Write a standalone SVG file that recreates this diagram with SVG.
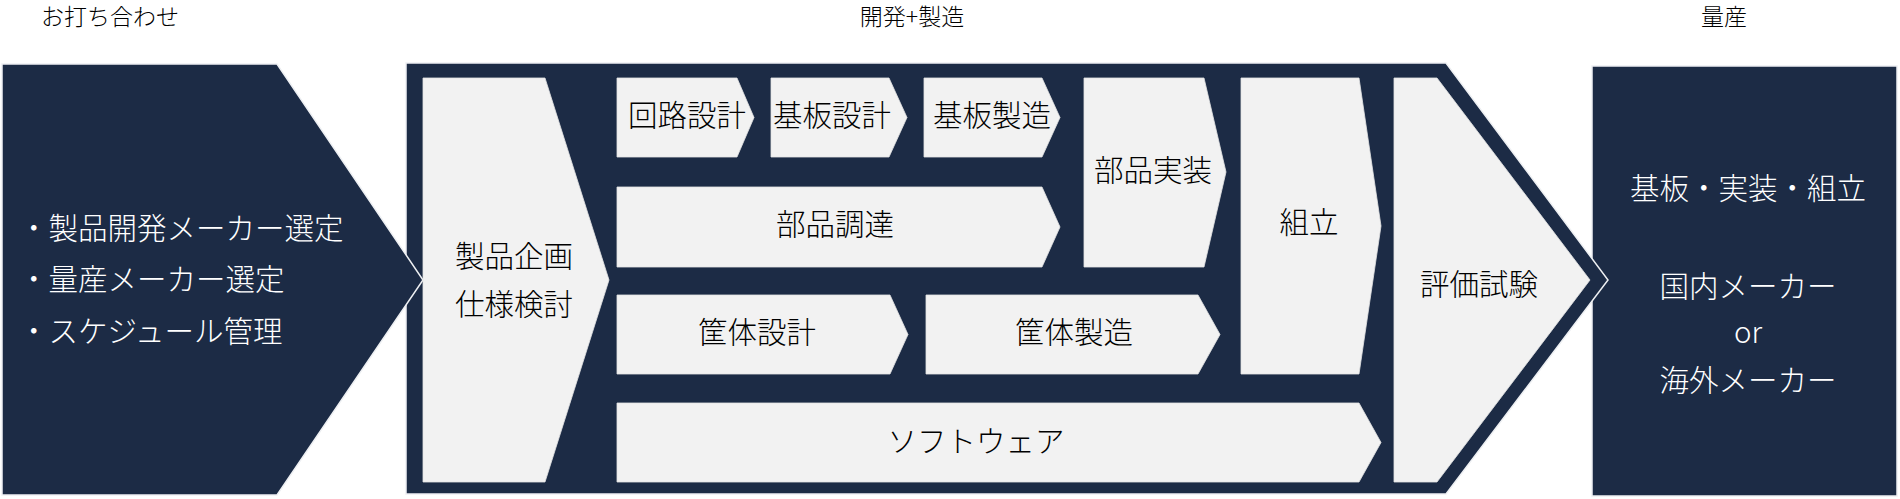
<svg xmlns="http://www.w3.org/2000/svg" width="1900" height="499" viewBox="0 0 1900 499">
<style>
  .dark { fill: #1c2b45; stroke: #eef0f3; stroke-width: 1.5; stroke-linejoin: miter; }
  .light { fill: #f2f2f2; stroke: #e4e4e4; stroke-width: 0.8; }
  text { font-family: "Noto Sans CJK JP", "Noto Sans", sans-serif; font-weight: 300; }
  .t { font-size: 29.5px; fill: #000000; text-anchor: middle; }
  .w { font-size: 29.5px; fill: #ffffff; text-anchor: middle; }
  .wl { font-size: 29.5px; fill: #ffffff; text-anchor: start; }
  .h { font-size: 23px; fill: #000000; text-anchor: middle; }
</style>
<rect x="0" y="0" width="1900" height="499" fill="#ffffff"/>

<g id="titles">
  <text class="h" x="110" y="25">お打ち合わせ</text>
  <text class="h" x="912" y="25">開発+製造</text>
  <text class="h" x="1724" y="25">量産</text>
</g>

<g id="mass-production">
  <rect class="dark" x="1592" y="66" width="305" height="430"/>
  <text class="w" x="1748" y="198.5">基板・実装・組立</text>
  <text class="w" x="1748" y="296.5">国内メーカー</text>
  <text class="w" x="1748" y="343">or</text>
  <text class="w" x="1748" y="390.5">海外メーカー</text>
</g>

<g id="dev-frame">
  <polygon class="dark" points="406,63 1446,63 1608,280 1446,494 406,494"/>
</g>

<g id="meeting">
  <polygon class="dark" points="2,64 277,64 423,280 277,495 2,495"/>
  <text class="wl" x="19" y="238.5">・製品開発メーカー選定</text>
  <text class="wl" x="19" y="290">・量産メーカー選定</text>
  <text class="wl" x="19" y="341.5">・スケジュール管理</text>
</g>

<g id="planning">
  <polygon class="light" points="423,78 545,78 609,280 545,482 423,482"/>
  <text class="t" x="514" y="266.5">製品企画</text>
  <text class="t" x="514" y="314.5">仕様検討</text>
</g>

<g id="circuit-design">
  <polygon class="light" points="617,78 737,78 754,117.5 737,157 617,157"/>
  <text class="t" x="687" y="125.5">回路設計</text>
</g>

<g id="board-design">
  <polygon class="light" points="771,78 889,78 907,117.5 889,157 771,157"/>
  <text class="t" x="832" y="125.5">基板設計</text>
</g>

<g id="board-manufacturing">
  <polygon class="light" points="924,78 1042,78 1060,117.5 1042,157 924,157"/>
  <text class="t" x="992" y="125.5">基板製造</text>
</g>

<g id="parts-procurement">
  <polygon class="light" points="617,187 1042,187 1060,227 1042,267 617,267"/>
  <text class="t" x="835" y="235">部品調達</text>
</g>

<g id="parts-mounting">
  <polygon class="light" points="1084,78 1204,78 1226,172 1204,267 1084,267"/>
  <text class="t" x="1153" y="181">部品実装</text>
</g>

<g id="case-design">
  <polygon class="light" points="617,295 890,295 908,334.5 890,374 617,374"/>
  <text class="t" x="757" y="343">筐体設計</text>
</g>

<g id="case-manufacturing">
  <polygon class="light" points="926,295 1198,295 1220,334.5 1198,374 926,374"/>
  <text class="t" x="1074" y="343">筐体製造</text>
</g>

<g id="software">
  <polygon class="light" points="617,403 1359,403 1381,442.5 1359,482 617,482"/>
  <text class="t" x="976" y="452">ソフトウェア</text>
</g>

<g id="assembly">
  <polygon class="light" points="1241,78 1359,78 1381,226 1359,374 1241,374"/>
  <text class="t" x="1309" y="233">組立</text>
</g>

<g id="evaluation">
  <polygon class="light" points="1394,78 1437,78 1590,280 1437,482 1394,482"/>
  <text class="t" x="1479" y="295">評価試験</text>
</g>

<g id="connectors"></g>
</svg>
